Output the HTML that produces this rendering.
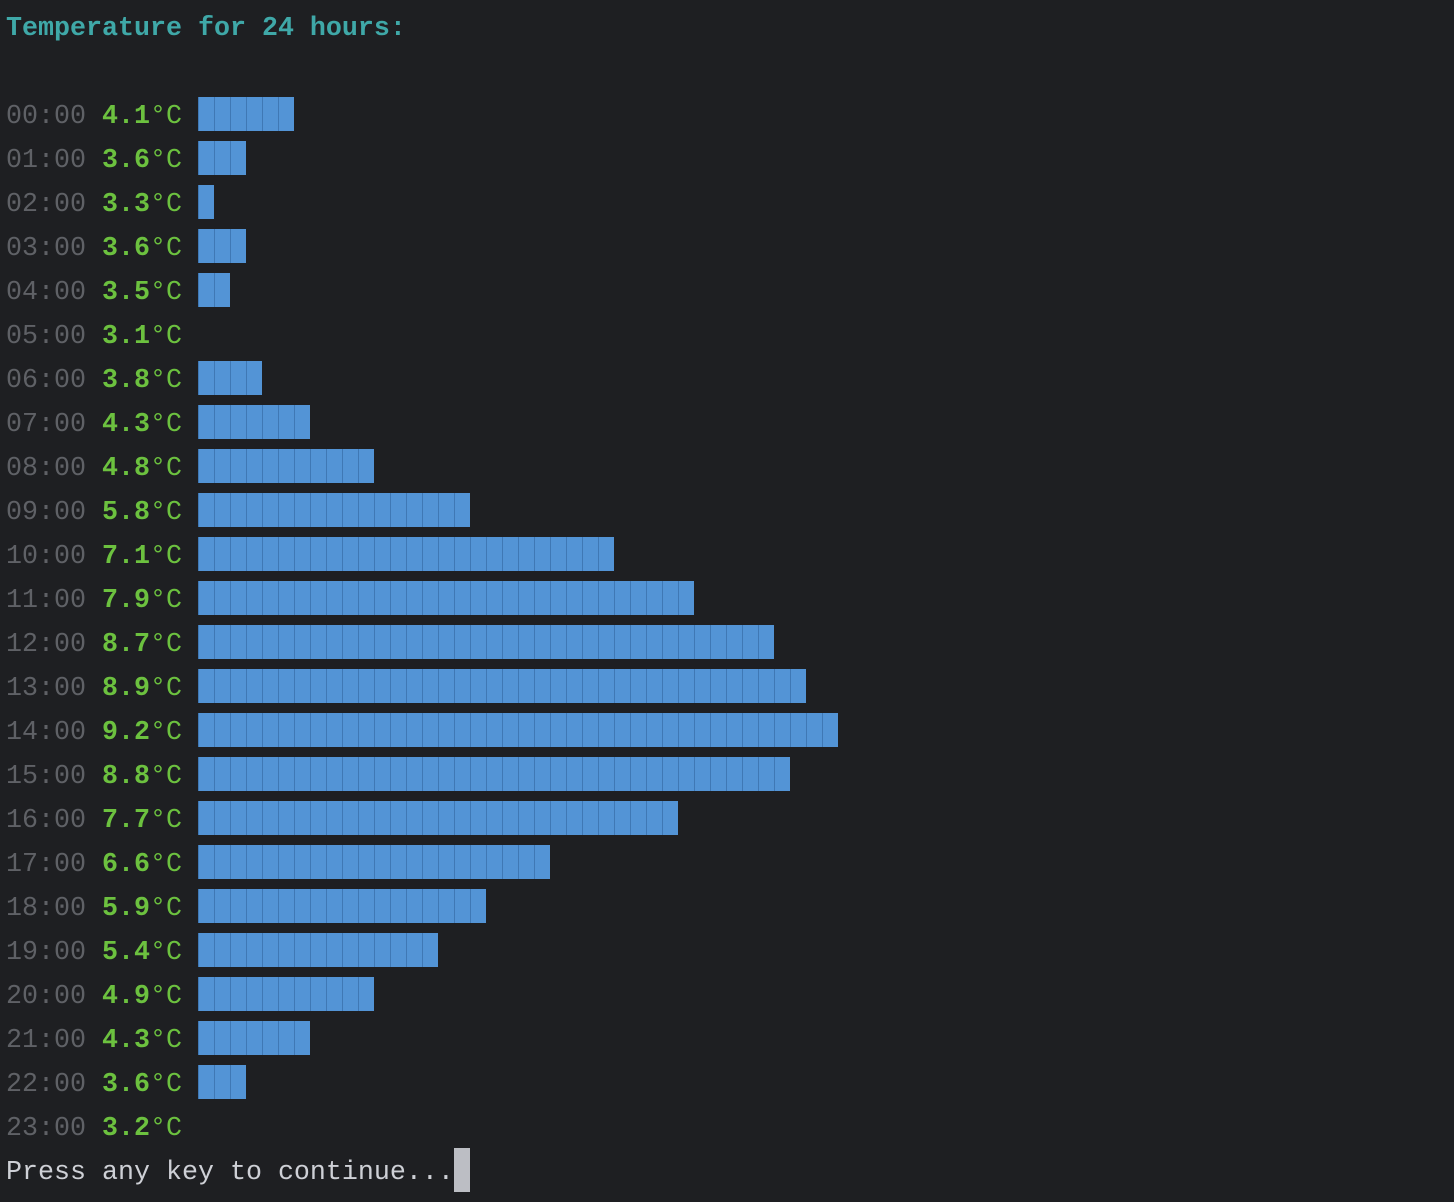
<!DOCTYPE html>
<html><head><meta charset="utf-8"><style>
html,body{margin:0;padding:0;background:#1e1f22;width:1454px;height:1202px;overflow:hidden}
body{position:relative;font-family:"Liberation Mono",monospace;font-size:26.67px}
.t{position:absolute;left:6px;white-space:pre;line-height:44px;height:44px}
.time{color:#5f6166}
.val{color:#6cc13f;font-weight:bold}
.unit{color:#6cc13f}
.bar{position:absolute;left:198px;height:34px;background:#5394d6}
.blk{position:absolute;top:0;width:16px;height:34px;box-sizing:border-box;border-left:1px solid #3f78b5}
</style></head><body>
<div class="t" style="top:7px;color:#3fa8a8;font-weight:bold">Temperature for 24 hours:</div>
<div id="chart"></div>
<div class="t" style="top:1151px;color:#ced0d6">Press any key to continue...</div>
<div style="position:absolute;left:454px;top:1148px;width:16px;height:44px;background:#bcbec4"></div>
<script>
const hours = ["00:00","01:00","02:00","03:00","04:00","05:00","06:00","07:00","08:00","09:00","10:00","11:00","12:00","13:00","14:00","15:00","16:00","17:00","18:00","19:00","20:00","21:00","22:00","23:00"];
const temps = [4.1,3.6,3.3,3.6,3.5,3.1,3.8,4.3,4.8,5.8,7.1,7.9,8.7,8.9,9.2,8.8,7.7,6.6,5.9,5.4,4.9,4.3,3.6,3.2];
const maxBlocks = 40;
const chart = document.getElementById('chart');
const mn = Math.min(...temps), mx = Math.max(...temps);
temps.forEach((t,i)=>{
  const y = 95 + 44*i;
  const row = document.createElement('div');
  row.className = 't';
  row.style.top = y + 'px';
  
  
  row.innerHTML = '<span class="time">'+hours[i]+'</span> <span class="val">'+t.toFixed(1)+'</span><span class="unit">°C</span>';
  chart.appendChild(row);
  const n = Math.floor((t-mn)/(mx-mn)*maxBlocks + 1e-9);
  if (n > 0) {
    const bar = document.createElement('div');
    bar.className = 'bar';
    
    
    bar.style.top = (97 + 44*i) + 'px';
    bar.style.width = (16*n) + 'px';
    for (let k=0;k<n;k++){
      const b = document.createElement('div');
      b.className='blk';
      b.style.left = (16*k)+'px';
      bar.appendChild(b);
    }
    chart.appendChild(bar);
  }
});
</script>
</body></html>
